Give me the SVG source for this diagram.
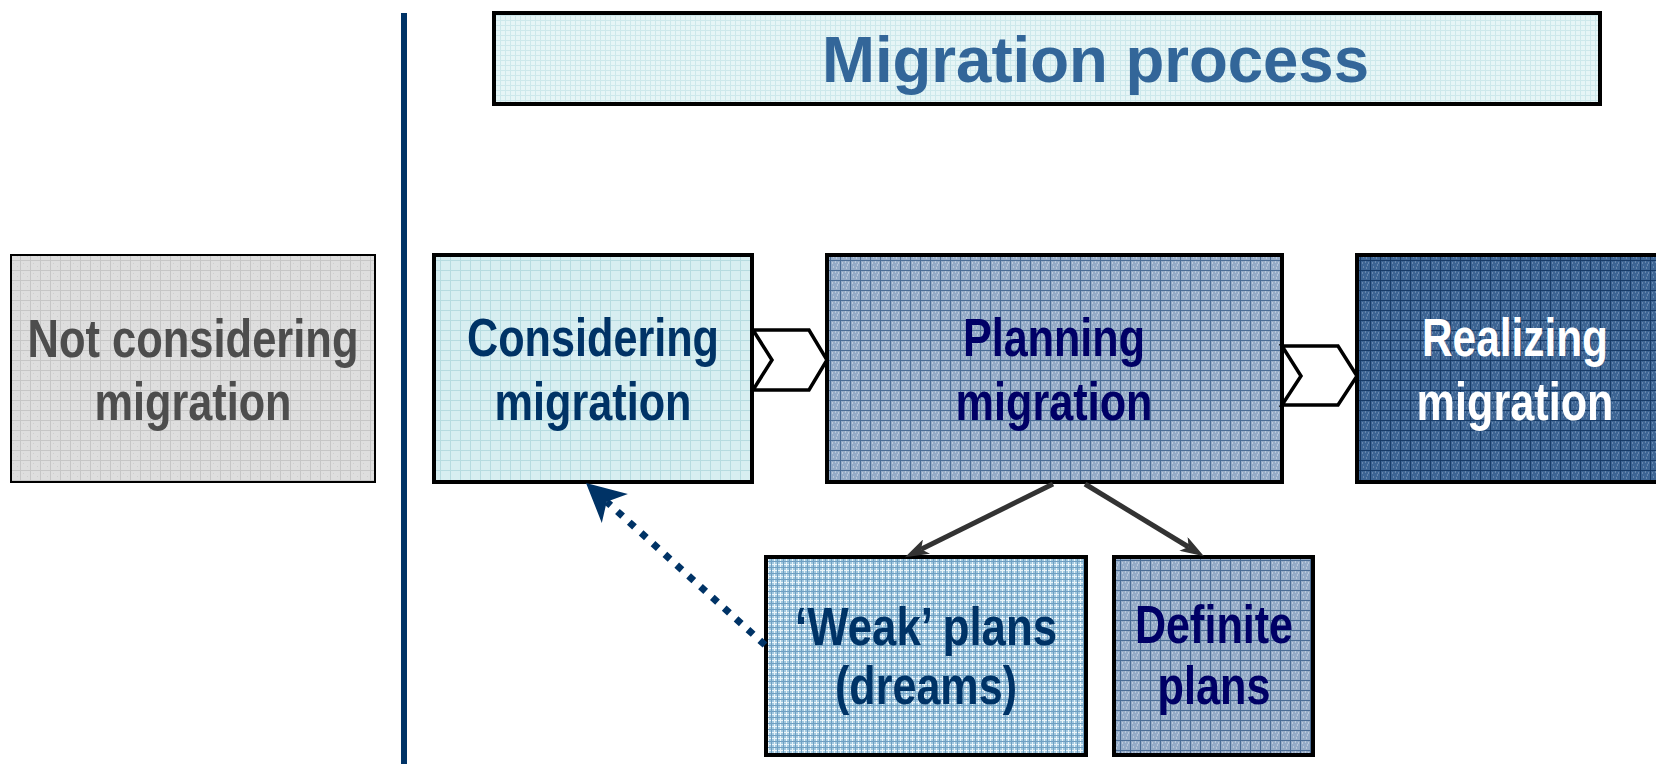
<svg xmlns="http://www.w3.org/2000/svg" width="1656" height="764" viewBox="0 0 1656 764">
<style>
.box{stroke:#000;stroke-width:4}
.lbl{font-family:"Liberation Sans",Arial,sans-serif;font-weight:bold;font-size:54px;text-anchor:middle}
.title{font-family:"Liberation Sans",Arial,sans-serif;font-weight:bold;font-size:65px;fill:#336699}
.chev{fill:#fff;stroke:#000;stroke-width:3.5;stroke-linejoin:miter}
.conn{fill:none;stroke:#333;stroke-width:5}
</style>
<defs>
<pattern id="pTitle" width="5" height="5" patternUnits="userSpaceOnUse"><rect width="5" height="5" fill="#e6f5f6"/><path d="M0,0.5H5M0.5,0V5" stroke="#cde8eb" stroke-width="1"/></pattern>
<pattern id="pGray" width="10" height="10" patternUnits="userSpaceOnUse"><rect width="10" height="10" fill="#dedede"/><path d="M0,0.5H10M0.5,0V10" stroke="#c6c6c6" stroke-width="1"/><rect x="3" y="3" width="1" height="1" fill="#cfcfcf"/><rect x="7" y="6" width="1" height="1" fill="#cfcfcf"/></pattern>
<pattern id="pCons" width="10" height="10" patternUnits="userSpaceOnUse"><rect width="10" height="10" fill="#d7eef1"/><path d="M0,0.5H10M0.5,0V10" stroke="#b6dbe0" stroke-width="1"/></pattern>
<pattern id="pPlan" width="10" height="10" patternUnits="userSpaceOnUse"><rect width="10" height="10" fill="#95abc7"/><path d="M0,0.5H10M0.5,0V10" stroke="#4a6c95" stroke-width="1"/><path d="M2,3h1M5,2h1M7,5h1M3,7h1M6,8h1M8,3h1" stroke="#dde6ef" stroke-width="1"/></pattern>
<pattern id="pReal" width="10" height="10" patternUnits="userSpaceOnUse"><rect width="10" height="10" fill="#3d6594"/><path d="M0,0.5H10M0.5,0V10" stroke="#163a66" stroke-width="1"/><path d="M2,3h1M5,2h1M7,5h1M3,7h1M6,8h1M8,3h1" stroke="#8fa8c6" stroke-width="1"/></pattern>
<pattern id="pWeak" width="6" height="6" patternUnits="userSpaceOnUse"><rect width="6" height="6" fill="#a3c9e0"/><path d="M0,0.5H6M0.5,0V6" stroke="#eaf4f9" stroke-width="1"/><path d="M0,3.5H6M3.5,0V6" stroke="#6f9fc2" stroke-width="1"/></pattern>
<marker id="ah" markerUnits="userSpaceOnUse" markerWidth="24" markerHeight="16" refX="6" refY="8" orient="auto"><path d="M0,0 L24,8 L0,16 L6,8 z" fill="#333"/></marker>
</defs>
<rect width="1656" height="764" fill="#fff"/>
<line x1="404" y1="13" x2="404" y2="764" stroke="#003366" stroke-width="6"/>
<g id="title">
<rect x="494" y="13" width="1106" height="91" fill="url(#pTitle)" stroke="#000" stroke-width="4"/>
<text class="title" x="822" y="82" textLength="547" lengthAdjust="spacingAndGlyphs">Migration process</text>
</g>
<g id="not-considering">
<rect x="11" y="255" width="364" height="227" fill="url(#pGray)" stroke="#000" stroke-width="2"/>
<text class="lbl" fill="#4d4d4d"><tspan x="193" y="357" textLength="331" lengthAdjust="spacingAndGlyphs">Not considering</tspan></text>
<text class="lbl" fill="#4d4d4d"><tspan x="193" y="420" textLength="197" lengthAdjust="spacingAndGlyphs">migration</tspan></text>
</g>
<g id="considering">
<rect class="box" x="434" y="255" width="318" height="227" fill="url(#pCons)"/>
<text class="lbl" fill="#003366"><tspan x="593" y="356" textLength="252" lengthAdjust="spacingAndGlyphs">Considering</tspan></text>
<text class="lbl" fill="#003366"><tspan x="593" y="420" textLength="197" lengthAdjust="spacingAndGlyphs">migration</tspan></text>
</g>
<g id="planning">
<rect class="box" x="827" y="255" width="455" height="227" fill="url(#pPlan)"/>
<text class="lbl" fill="#000066"><tspan x="1054" y="356" textLength="182" lengthAdjust="spacingAndGlyphs">Planning</tspan></text>
<text class="lbl" fill="#000066"><tspan x="1054" y="420" textLength="197" lengthAdjust="spacingAndGlyphs">migration</tspan></text>
</g>
<g id="realizing">
<rect class="box" x="1357" y="255" width="302" height="227" fill="url(#pReal)"/>
<text class="lbl" fill="#ffffff"><tspan x="1515" y="356" textLength="186" lengthAdjust="spacingAndGlyphs">Realizing</tspan></text>
<text class="lbl" fill="#ffffff"><tspan x="1515" y="420" textLength="197" lengthAdjust="spacingAndGlyphs">migration</tspan></text>
</g>
<g id="weak-plans">
<rect class="box" x="766" y="557" width="320" height="198" fill="url(#pWeak)"/>
<text class="lbl" fill="#003366"><tspan x="926" y="645" textLength="262" lengthAdjust="spacingAndGlyphs">‘Weak’ plans</tspan></text>
<text class="lbl" fill="#003366"><tspan x="926" y="704" textLength="182" lengthAdjust="spacingAndGlyphs">(dreams)</tspan></text>
</g>
<g id="definite-plans">
<rect class="box" x="1114" y="557" width="199" height="198" fill="url(#pPlan)"/>
<text class="lbl" fill="#000066"><tspan x="1214" y="643" textLength="158" lengthAdjust="spacingAndGlyphs">Definite</tspan></text>
<text class="lbl" fill="#000066"><tspan x="1214" y="704" textLength="113" lengthAdjust="spacingAndGlyphs">plans</tspan></text>
</g>
<g id="connectors">
<polygon class="chev" points="753,330 809,330 827,360 809,390 753,390 772,360"/>
<polygon class="chev" points="1282,346 1338,346 1357,376 1338,405 1282,405 1301,376"/>
<path class="conn" d="M1053,484 L921.1,549.3" marker-end="url(#ah)"/>
<path class="conn" d="M1085,484 L1188.6,547" marker-end="url(#ah)"/>
<path d="M765,645 L606.7,501.8" fill="none" stroke="#003366" stroke-width="7" stroke-dasharray="7 9"/>
<polygon points="586,483 627.9,494 606.7,501.8 601.8,522.9" fill="#003366"/>
</g>
</svg>
